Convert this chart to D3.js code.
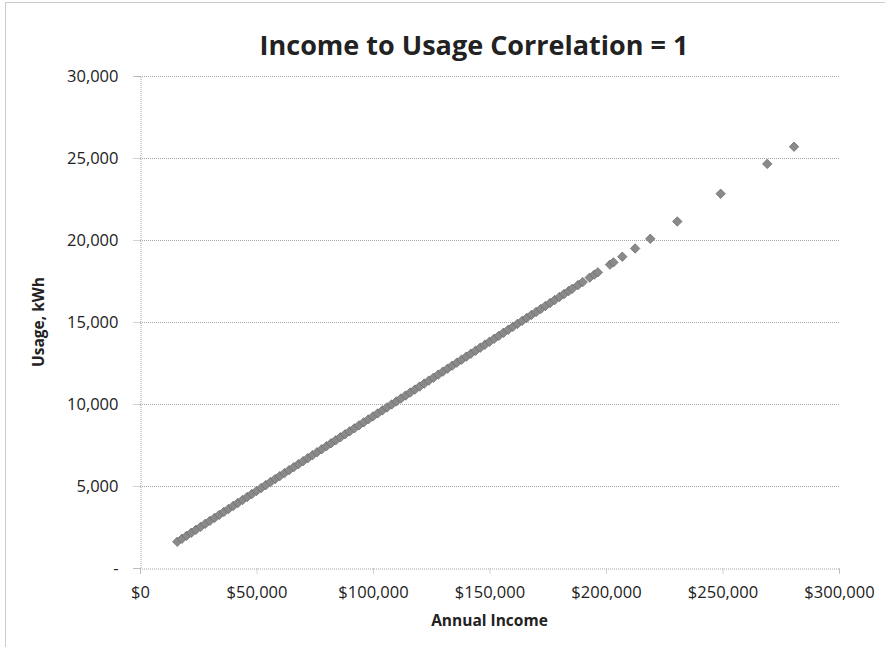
<!DOCTYPE html>
<html>
<head>
<meta charset="utf-8">
<script src="https://cdn.jsdelivr.net/npm/d3@7"></script>
<style>
  body { margin: 0; background: #fff; }
  text { font-family: "Open Sans", "Noto Sans", sans-serif; fill: #222; }
</style>
</head>
<body>
<div class="chart-container"></div>
<script>
// --- Data ---
const chartTitle = "Income to Usage Correlation = 1";
const xLabel = "Annual Income";
const yLabel = "Usage, kWh";

const xTicks = [0, 50000, 100000, 150000, 200000, 250000, 300000];
const yTicks = [0, 5000, 10000, 15000, 20000, 25000, 30000];

// annual income ($) of each household
const income = [
    16000, 18000, 20000, 22000, 24000, 26000, 28000, 30000, 32000, 34000,
    36000, 38000, 40000, 42000, 44000, 46000, 48000, 50000, 52000, 54000,
    56000, 58000, 60000, 62000, 64000, 66000, 68000, 70000, 72000, 74000,
    76000, 78000, 80000, 82000, 84000, 86000, 88000, 90000, 92000, 94000,
    96000, 98000, 100000, 102000, 104000, 106000, 108000, 110000, 112000, 114000,
    116000, 118000, 120000, 122000, 124000, 126000, 128000, 130000, 132000, 134000,
    136000, 138000, 140000, 142000, 144000, 146000, 148000, 150000, 152000, 154000,
    156000, 158000, 160000, 162000, 164000, 166000, 168000, 170000, 172000, 174000,
    176000, 178000, 180000, 182000, 184000, 185500,
    188000, 190000, 193000, 195000, 196500, 201700, 203200, 207000, 212500, 219000,
    230600, 249200, 269200, 280700
];

// usage (kWh) of the same households
const usage = [
    1600, 1782, 1964, 2146, 2328, 2510, 2692, 2874, 3056, 3238,
    3420, 3602, 3784, 3966, 4148, 4330, 4512, 4694, 4876, 5058,
    5240, 5422, 5604, 5786, 5968, 6150, 6332, 6514, 6696, 6878,
    7060, 7242, 7424, 7606, 7788, 7970, 8152, 8334, 8516, 8698,
    8880, 9062, 9244, 9426, 9608, 9790, 9972, 10154, 10336, 10518,
    10700, 10882, 11064, 11246, 11428, 11610, 11792, 11974, 12156, 12338,
    12520, 12702, 12884, 13066, 13248, 13430, 13612, 13794, 13976, 14158,
    14340, 14522, 14704, 14886, 15068, 15250, 15432, 15614, 15796, 15978,
    16160, 16342, 16524, 16706, 16888, 17025,
    17252, 17434, 17707, 17889, 18026, 18499, 18635, 18981, 19482, 20073,
    21129, 22821, 24641, 25688
];

// --- Layout ---
const dimensions = {
    width: 885,
    height: 647,
    margin: { top: 76, right: 46, bottom: 79, left: 140 }
};
const width = dimensions.width - dimensions.margin.left - dimensions.margin.right;
const height = dimensions.height - dimensions.margin.top - dimensions.margin.bottom;
const markerR = 4.7; // half-diagonal of each diamond

const svg = d3.select(".chart-container").append("svg")
    .attr("width", dimensions.width)
    .attr("height", dimensions.height);

// outer chart border (only top/left fall inside the picture)
svg.append("rect")
    .attr("x", 5.5).attr("y", 2.5)
    .attr("width", dimensions.width + 20).attr("height", dimensions.height + 20)
    .attr("fill", "none")
    .attr("stroke", "#9a9a9a")
    .attr("stroke-dasharray", "1,1");

const g = svg.append("g")
    .attr("transform", `translate(${dimensions.margin.left}, ${dimensions.margin.top})`);

const xScale = d3.scaleLinear().domain([0, 300000]).range([0, width]);
const yScale = d3.scaleLinear().domain([0, 30000]).range([height, 0]);

// horizontal grid lines
g.append("g")
    .attr("class", "grid")
    .selectAll("line")
    .data(yTicks.filter(d => d > 0))
    .enter()
    .append("line")
    .attr("x1", 0).attr("x2", width)
    .attr("y1", d => yScale(d) + 0.5).attr("y2", d => yScale(d) + 0.5)
    .attr("stroke", "#a6a6a6")
    .attr("stroke-dasharray", "1,1");

// Y axis
const yAxis = g.append("g")
    .attr("class", "y-axis")
    .attr("transform", "translate(0.5,0)")
    .call(d3.axisLeft(yScale)
        .tickValues(yTicks)
        .tickSize(7)
        .tickPadding(15)
        .tickFormat(d => d === 0 ? "-" : d3.format(",")(d)));

// X axis
const xAxis = g.append("g")
    .attr("class", "x-axis")
    .attr("transform", `translate(0, ${height + 0.5})`)
    .call(d3.axisBottom(xScale)
        .tickValues(xTicks)
        .tickSize(5)
        .tickPadding(13)
        .tickFormat(d => "$" + d3.format(",")(d)));

g.selectAll(".domain, .tick line")
    .attr("stroke", "#a6a6a6")
    .attr("stroke-dasharray", "1,1");

g.selectAll(".tick text")
    .style("font-size", "16.5px")
    .style("font-family", "'Open Sans', sans-serif")
    .attr("fill", "#222");

// --- Points ---
const points = income.map((d, i) => ({ income: d, usage: usage[i] }));
const diamond = `M0,${-markerR}L${markerR},0L0,${markerR}L${-markerR},0Z`;

g.append("g")
    .attr("class", "points")
    .selectAll("path")
    .data(points)
    .enter()
    .append("path")
    .attr("d", diamond)
    .attr("transform", d => `translate(${xScale(d.income)}, ${yScale(d.usage)})`)
    .attr("fill", "#8a8a8a")
    .attr("stroke", "#6f6f6f")
    .attr("stroke-width", 0.8);

// --- Titles ---
svg.append("text")
    .attr("x", 474)
    .attr("y", 55)
    .attr("text-anchor", "middle")
    .style("font-size", "27px")
    .style("font-weight", "bold")
    .text(chartTitle);

svg.append("text")
    .attr("x", dimensions.margin.left + width / 2)
    .attr("y", 626)
    .attr("text-anchor", "middle")
    .style("font-size", "15.5px")
    .style("font-weight", "bold")
    .text(xLabel);

svg.append("text")
    .attr("transform", `translate(44, ${dimensions.margin.top + height / 2}) rotate(-90)`)
    .attr("text-anchor", "middle")
    .style("font-size", "15.5px")
    .style("font-weight", "bold")
    .text(yLabel);
</script>
</body>
</html>
